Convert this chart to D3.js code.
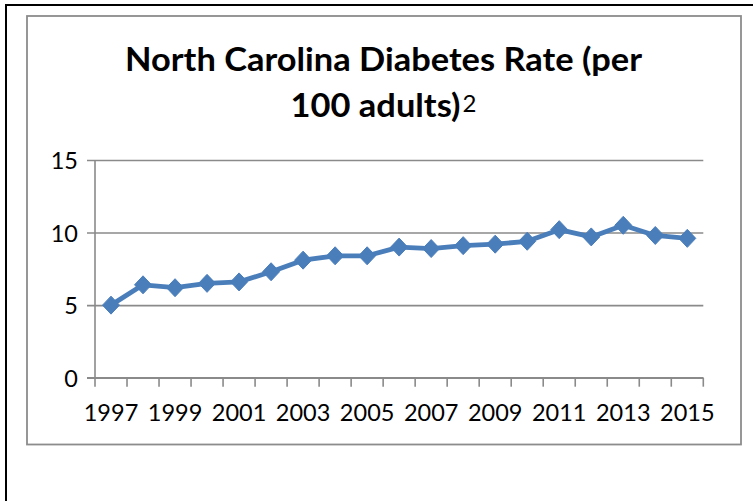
<!DOCTYPE html>
<html>
<head>
<meta charset="utf-8">
<script src="https://cdn.jsdelivr.net/npm/d3@7"></script>
<style>
  html, body { margin: 0; padding: 0; background: #fff; }
  svg { display: block; }
  text { font-family: Lato, "Open Sans", sans-serif; fill: #000; }
</style>
</head>
<body>
<svg id="chart" width="753" height="501"></svg>
<script>
// ---- data ----
const years = ["1997","1998","1999","2000","2001","2002","2003","2004","2005","2006",
               "2007","2008","2009","2010","2011","2012","2013","2014","2015"];
const rates = [5.0, 6.4, 6.2, 6.5, 6.6, 7.3, 8.1, 8.4, 8.4, 9.0,
               8.9, 9.1, 9.2, 9.4, 10.2, 9.7, 10.5, 9.8, 9.6];
const yTicks = [0, 5, 10, 15];
const xTickLabels = ["1997","1999","2001","2003","2005","2007","2009","2011","2013","2015"];
const titleLine1 = "North Carolina Diabetes Rate (per";
const titleLine2 = "100 adults)";
const titleSup = "2";

// ---- layout ----
const svg = d3.select("#chart");
const plot = { left: 95, right: 703.3, top: 160, bottom: 377.7 };
const gridColor = "#8a8a8a";
const lineColor = "#4a7ebb";
const tickFont = "23.5px";

// outer page frame (black, top + left)
svg.append("line").attr("x1", 6).attr("y1", 5).attr("x2", 753).attr("y2", 5)
  .attr("stroke", "#000").attr("stroke-width", 2);
svg.append("line").attr("x1", 6).attr("y1", 4).attr("x2", 6).attr("y2", 501)
  .attr("stroke", "#000").attr("stroke-width", 2);

// chart frame (gray)
svg.append("rect").attr("x", 27).attr("y", 16).attr("width", 714).attr("height", 428.5)
  .attr("fill", "#fff").attr("stroke", "#8c8c8c").attr("stroke-width", 1.8);

// scales
const x = d3.scaleBand().domain(years).range([plot.left, plot.right]).padding(0);
const y = d3.scaleLinear().domain([0, 15]).range([plot.bottom, plot.top]);

// gridlines + y ticks
const yAxis = d3.axisLeft(y).tickValues(yTicks).tickSize(0).tickPadding(0).tickFormat(d3.format("d"));
const gy = svg.append("g").attr("transform", `translate(${plot.left},0)`).call(yAxis);
gy.select(".domain").remove();
gy.selectAll(".tick text").remove();
gy.selectAll(".tick").append("line")
  .attr("x1", -8).attr("x2", plot.right - plot.left)
  .attr("stroke", gridColor).attr("stroke-width", 1.6);
gy.selectAll(".tick").append("text")
  .attr("x", -17).attr("dy", "0.36em")
  .attr("text-anchor", "end")
  .style("font-size", tickFont)
  .text(d => d);

// y axis line
svg.append("line")
  .attr("x1", plot.left).attr("x2", plot.left)
  .attr("y1", y(15)).attr("y2", y(0))
  .attr("stroke", gridColor).attr("stroke-width", 1.6);

// x axis: line + tick marks at band boundaries
svg.append("line")
  .attr("x1", plot.left - 8).attr("x2", plot.right)
  .attr("y1", y(0)).attr("y2", y(0))
  .attr("stroke", gridColor).attr("stroke-width", 1.6);
const boundaries = years.map(d => x(d)).concat([x(years[years.length - 1]) + x.bandwidth()]);
svg.append("g").selectAll("line").data(boundaries).join("line")
  .attr("x1", d => d).attr("x2", d => d)
  .attr("y1", y(0)).attr("y2", y(0) + 9)
  .attr("stroke", gridColor).attr("stroke-width", 1.6);

// x labels
const xAxis = d3.axisBottom(x).tickValues(xTickLabels).tickSize(0).tickPadding(0);
const gx = svg.append("g").attr("transform", `translate(0,${y(0)})`).call(xAxis);
gx.select(".domain").remove();
gx.selectAll(".tick text")
  .attr("y", 43).attr("dy", 0)
  .attr("fill", "#000")
  .style("font-size", tickFont)
  .style("font-family", "Lato, 'Open Sans', sans-serif");

// line
const cx = (d, i) => x(years[i]) + x.bandwidth() / 2;
const lineGen = d3.line().x((d, i) => cx(d, i)).y(d => y(d));
svg.append("path").datum(rates)
  .attr("d", lineGen)
  .attr("fill", "none")
  .attr("stroke", lineColor)
  .attr("stroke-width", 4.8)
  .attr("stroke-linejoin", "round");

// diamond markers
const diamond = "M0,-9L8.5,0L0,9L-8.5,0Z";
svg.append("g").selectAll("path").data(rates).join("path")
  .attr("d", diamond)
  .attr("transform", (d, i) => `translate(${cx(d, i)},${y(d)})`)
  .attr("fill", lineColor)
  .attr("stroke", lineColor)
  .attr("stroke-width", 1);

// title
const cxTitle = 383.5;
const titleSize = 32;
svg.append("text")
  .attr("x", cxTitle).attr("y", 71)
  .attr("text-anchor", "middle")
  .attr("textLength", 517)
  .attr("lengthAdjust", "spacingAndGlyphs")
  .style("font-weight", "bold")
  .style("font-size", titleSize + "px")
  .text(titleLine1);

const t2 = svg.append("text")
  .attr("x", cxTitle).attr("y", 117)
  .attr("text-anchor", "middle");
t2.append("tspan").style("font-weight", "bold").style("font-size", titleSize + "px")
  .attr("textLength", 170).attr("lengthAdjust", "spacingAndGlyphs")
  .text(titleLine2);
t2.append("tspan").attr("dx", 2).attr("dy", -5).style("font-size", "24px").text(titleSup);
</script>
</body>
</html>
